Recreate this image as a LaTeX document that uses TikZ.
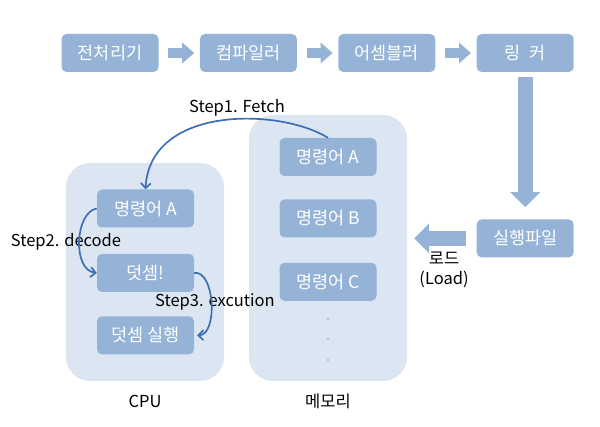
\documentclass[tikz,border=0pt]{standalone}
\usepackage{fontspec}
\setmainfont{Noto Sans CJK KR}
\usetikzlibrary{arrows.meta,positioning}
\definecolor{boxblue}{HTML}{95B3D7}
\definecolor{pale}{HTML}{DCE6F2}
\definecolor{curve}{HTML}{3D6FB6}

\begin{document}
\begin{tikzpicture}[x=1pt,y=-1pt,
node distance=41pt,
box/.style={fill=boxblue,rounded corners=5pt,minimum width=97pt,minimum height=38pt,inner sep=0pt,text=white,font=\fontsize{17.5}{19}\selectfont},
panel/.style={fill=pale,rounded corners=24pt,minimum width=158pt,inner sep=0pt},
lbl/.style={font=\fontsize{16.5}{20}\selectfont,align=center},
flat/.style={boxblue,line width=10pt,-{Triangle[length=12pt,width=21pt,line width=0pt]}},
fat/.style={boxblue,line width=15pt,-{Triangle[length=15pt,width=30pt,line width=0pt]}},
steparr/.style={curve,line width=1.7pt,-{Straight Barb[length=5pt,width=10pt]}}]
\useasboundingbox (0,0) rectangle (600,427);
% containers
\node[panel,minimum height=218pt] (cpu) at (145,272) {};
\node[panel,minimum height=266pt] (mem) at (328,248) {};
% build chain
\node[box] (pre) at (110,53) {전처리기};
\node[box,right=of pre] (comp) {컴파일러};
\node[box,right=of comp] (asm) {어셈블러};
\node[box,right=of asm] (link) {링\enspace 커};
\node[box,below=147pt of link] (exe) {실행파일};
% memory
\node[box] (memA) at (328,157) {명령어 A};
\node[box,below=23pt of memA] (memB) {명령어 B};
\node[box,below=25pt of memB] (memC) {명령어 C};
\foreach \y in {319,339,360} \fill[boxblue] (328,\y) circle (1.2pt);
% cpu
\node[box] (cpuA) at (145.5,208.5) {명령어 A};
\node[box,below=26pt of cpuA] (sum) {덧셈!};
\node[box,below=24pt of sum] (addrun) {덧셈 실행};
% labels
\node[lbl] (cpulbl) at (145,401) {CPU};
\node[lbl] (memlbl) at (328,401) {메모리};
\node[lbl] (load) at (444,270) {로드\\(Load)};
\node[lbl] (fetch) at (237,108) {Step1. Fetch};
\node[lbl] (decode) at (66,242) {Step2. decode};
\node[lbl] (excu) at (215,302) {Step3. excution};
\draw[flat,shorten <=9.5pt,shorten >=5.5pt] (pre) -- (comp);
\draw[flat,shorten <=9.5pt,shorten >=5.5pt] (comp) -- (asm);
\draw[flat,shorten <=9.5pt,shorten >=5.5pt] (asm) -- (link);
\draw[fat,shorten <=5pt,shorten >=12pt] (link) -- (exe);
\draw[fat,shorten <=11pt,shorten >=7pt] (exe.west) -- (exe.west -| mem.east);
\draw[steparr] (memA.north) .. controls (280,108) and (150,105) .. (cpuA.north);
\draw[steparr] (cpuA.west) .. controls (75,212) and (72,270) .. (sum.west);
\draw[steparr] (sum.east) .. controls (215,270) and (218,335) .. ([xshift=3pt]addrun.east);
\end{tikzpicture}
\end{document}
